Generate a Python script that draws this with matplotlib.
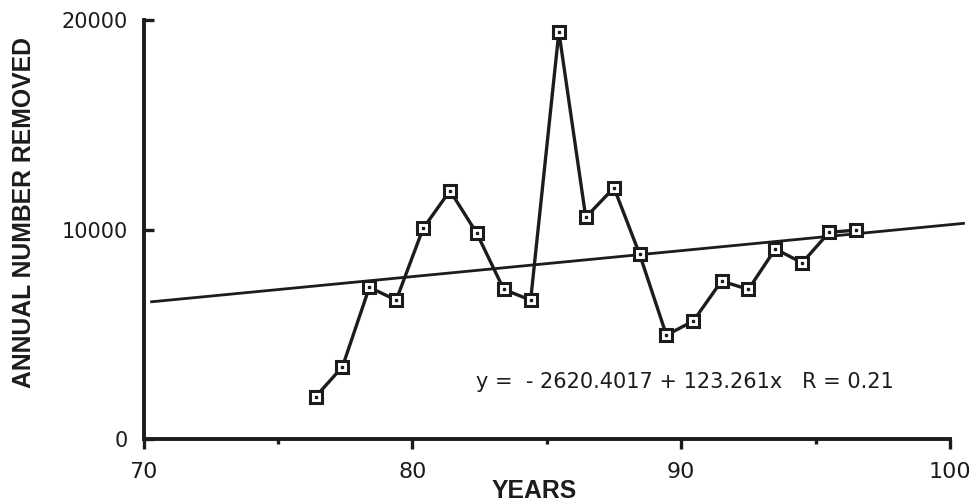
from matplotlib import pyplot as plt
from matplotlib.ticker import MultipleLocator

# values
years = [76.4, 77.4, 78.4, 79.4, 80.4, 81.4, 82.4, 83.4, 84.4, 85.45, 86.45,
         87.5, 88.45, 89.45, 90.45, 91.5, 92.5, 93.5, 94.5, 95.5, 96.5]
removed = [2030, 3460, 7250, 6640, 10060, 11860, 9820, 7150, 6640, 19440, 10590,
           12000, 8840, 4970, 5640, 7550, 7150, 9080, 8420, 9870, 9980]

# regression line as drawn (end points)
trend_x = [70.3, 100.5]
trend_y = [6560, 10300]

x_ticks = [70, 80, 90, 100]
y_ticks = [0, 10000, 20000]
equation = "y =  - 2620.4017 + 123.261x   R = 0.21"

plt.rcParams['font.family'] = ['Liberation Sans', 'DejaVu Sans']
ink = '#1c1c1c'
# the scan's numbers are widely tracked, DejaVu is closer in width
num_font = 'DejaVu Sans'

fig = plt.figure(figsize=(9.77, 5.03), dpi=100)
ax = fig.add_axes([0.1469, 0.1266, 0.8255, 0.8336])

ax.plot(trend_x, trend_y, color=ink, lw=2.0, clip_on=False, zorder=2)
ax.plot(years, removed, color=ink, lw=2.4, marker='s', markersize=9,
        markerfacecolor='white', markeredgecolor=ink, markeredgewidth=2.2,
        clip_on=False, zorder=3)
# little dot in the middle of each box
ax.plot(years, removed, ls='none', marker='s', markersize=1.8,
        color=ink, clip_on=False, zorder=4)

ax.text(82.35, 2450, equation, fontsize=15, family=num_font, color=ink,
        va='baseline')

ax.set_xlim(70, 100)
ax.set_ylim(0, 20000)
ax.set_xticks(x_ticks)
ax.set_xticklabels([str(v) for v in x_ticks], family=num_font)
ax.xaxis.set_minor_locator(MultipleLocator(5))
ax.set_yticks(y_ticks)
ax.set_yticklabels([str(v) for v in y_ticks], family=num_font)

for side in ['top', 'right']:
    ax.spines[side].set_visible(False)
for side in ['left', 'bottom']:
    ax.spines[side].set_linewidth(2.8)
    ax.spines[side].set_color(ink)

ax.tick_params(axis='x', which='major', direction='out', length=7, width=2.4,
               pad=9, labelsize=16, colors=ink)
ax.tick_params(axis='x', which='minor', direction='out', length=3.5, width=2.4,
               colors=ink)
ax.tick_params(axis='y', which='major', direction='in', length=7, width=2.4,
               pad=11, labelsize=15, colors=ink)

fig.text(24 / 977, 1 - 212 / 503, 'ANNUAL NUMBER REMOVED', rotation=90,
         ha='center', va='center', fontsize=17.8, fontweight='bold', color=ink)
fig.text(534 / 977, 1 - 491 / 503, 'YEARS', ha='center', va='center',
         fontsize=17.8, fontweight='bold', color=ink)

fig.savefig('out.png', dpi=100, facecolor='white')
